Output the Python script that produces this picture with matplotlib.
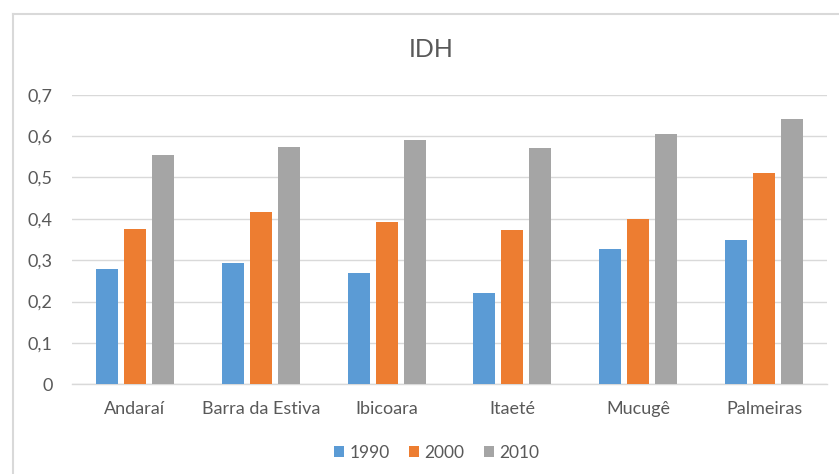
import matplotlib
matplotlib.use("Agg")
import matplotlib.pyplot as plt
from matplotlib.lines import Line2D
import numpy as np

# IDH dos municipios
municipios = ['Andaraí', 'Barra da Estiva', 'Ibicoara', 'Itaeté', 'Mucugê', 'Palmeiras']
anos = ['1990', '2000', '2010']
idh_1990 = [0.278, 0.292, 0.270, 0.220, 0.326, 0.350]
idh_2000 = [0.375, 0.417, 0.392, 0.372, 0.400, 0.510]
idh_2010 = [0.555, 0.574, 0.590, 0.571, 0.606, 0.642]
cores = ['#5B9BD5', '#ED7D31', '#A5A5A5']

plt.rcParams['font.family'] = ['Lato', 'DejaVu Sans']
texto = '#595959'

fig = plt.figure(figsize=(8.39, 4.74), dpi=100)
W, H = 839, 474
ax = fig.add_axes([72 / W, 1 - 384.3 / H, 755 / W, 289.6 / H])

x = np.arange(len(municipios))
largura = 0.175
desloc = 0.223
for i, (serie, cor, ano) in enumerate(zip([idh_1990, idh_2000, idh_2010], cores, anos)):
    ax.bar(x + (i - 1) * desloc, serie, largura, color=cor, label=ano, zorder=3)

ax.set_xlim(-0.5, len(municipios) - 0.5)
ax.set_ylim(0, 0.7)
ax.set_yticks(np.arange(0, 0.71, 0.1))
ax.set_yticklabels(['0', '0,1', '0,2', '0,3', '0,4', '0,5', '0,6', '0,7'])
ax.set_xticks(x)
ax.set_xticklabels(municipios)
ax.tick_params(axis='both', length=0, labelsize=13, colors=texto)
ax.tick_params(axis='y', pad=14)
ax.tick_params(axis='x', pad=12)
ax.grid(axis='y', color='#D9D9D9', linewidth=1, zorder=0)
for s in ['top', 'right', 'left']:
    ax.spines[s].set_visible(False)
ax.spines['bottom'].set_color('#D9D9D9')
ax.spines['bottom'].set_linewidth(1)

fig.text(431.5 / W, 1 - 49.5 / H, 'IDH', ha='center', va='center', fontsize=18, color=texto)

leg = ax.legend(loc='center', bbox_to_anchor=(436.5 / W, 1 - 453 / H), bbox_transform=fig.transFigure,
                ncol=3, frameon=False, fontsize=12.5, handlelength=0.6, handleheight=0.6,
                handletextpad=0.3, columnspacing=1.1, labelcolor=texto)

# moldura do grafico
fig.add_artist(Line2D([12.5 / W, 12.5 / W], [0, 1 - 14 / H], transform=fig.transFigure,
                      color='#D9D9D9', linewidth=1.5))
fig.add_artist(Line2D([12.5 / W, 1], [1 - 14 / H, 1 - 14 / H], transform=fig.transFigure,
                      color='#D9D9D9', linewidth=1.5))

fig.savefig('out.png', dpi=100)
